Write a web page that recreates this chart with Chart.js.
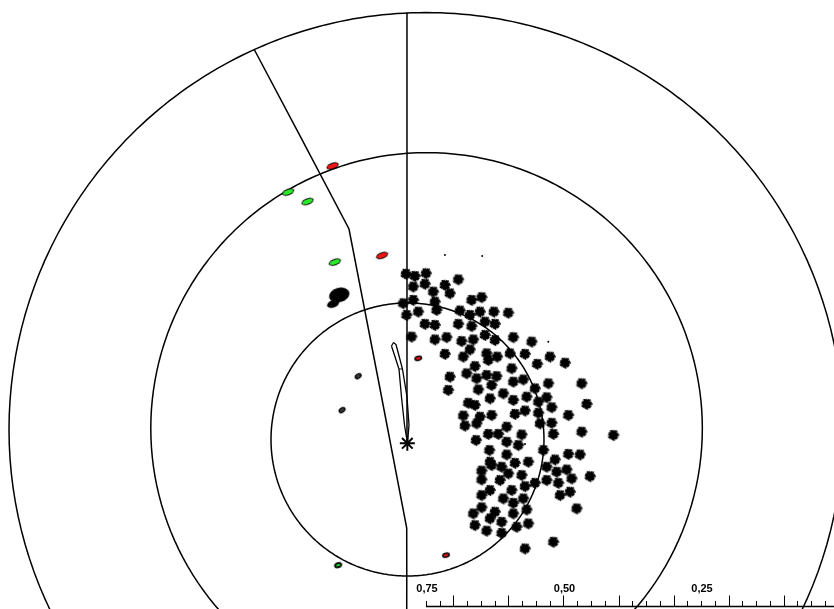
<!DOCTYPE html>
<html>
<head>
<meta charset="utf-8">
<script src="https://cdn.jsdelivr.net/npm/chart.js@4.4.1/dist/chart.umd.min.js"></script>
<style>
  html, body { margin: 0; padding: 0; background: #fff; overflow: hidden; }
  #wrap { width: 834px; height: 609px; position: relative; }
</style>
</head>
<body>
<div id="wrap"><canvas id="chart"></canvas></div>
<script>
// chart units: origin at the centre of the two big rings, outer ring = 75
const ringRadii = [75, 49.6, 24.55]
const ringCentersX = [0, 0.1, -3.33]
const ringCentersY = [0, 0.2, -1.8]

const meridianLine = [[-3.42, 75.02], [-3.42, -2.43]]
const boundaryLine = [[-30.94, 68.44], [-13.85, 36.06], [-3.47, -17.72], [-3.47, -34]]
const needleOutline = [
  [-6.21, 15.02], [-5.85, 15.65], [-5.4, 15.29], [-4.23, 10.88], [-3.42, 5.85],
  [-3.06, 0.81], [-3.33, -2.43], [-3.87, 0.81], [-4.41, 5.85], [-4.86, 10.88], [-6.21, 15.02]
]
const needleBar = [[-4.86, 10.88], [-4.23, 10.88]]
const centerMark = [[-3.36, -2.48]]

const clusterPts = [
  [-3.6, 28.0], [-2.0, 27.6], [0, 28.1], [-0.2, 26.2], [-2.3, 25.7], [1.3, 24.8], [3.4, 26.0],
  [5.8, 27.0], [4.3, 24.5], [1.6, 23.0], [-2.3, 23.3], [-4.1, 22.7], [-3.5, 20.6], [-1.4, 21.2],
  [1.9, 21.5], [6.1, 21.4], [8.2, 23.3], [10.0, 23.8], [9.7, 21.2], [12.2, 21.2], [14.8, 21.0],
  [7.9, 20.6], [10.6, 19.4], [12.4, 19.0], [5.8, 19.0], [8.2, 18.6], [-0.2, 19.0], [1.6, 18.8],
  [-2.6, 16.7], [1.6, 16.2], [3.7, 16.6], [6.4, 15.9], [8.5, 16.2], [10.6, 17.0], [12.4, 16.1],
  [15.7, 16.6], [19.0, 15.8], [7.9, 14.4], [3.4, 13.6], [6.7, 13.1], [10.9, 13.7], [12.8, 13.1],
  [15.1, 13.7], [17.8, 13.6], [22.3, 13.1], [25.0, 12.0], [8.8, 11.4], [11.2, 12.5], [15.4, 11.0],
  [20.0, 11.8], [4.3, 9.5], [7.3, 10.1], [10.9, 9.8], [12.7, 9.6], [9.1, 9.2], [15.7, 8.6],
  [17.5, 9.0], [11.8, 8.0], [22.0, 8.3], [28.0, 8.3], [4.0, 7.1], [9.4, 7.2], [13.9, 6.5],
  [19.6, 7.4], [11.5, 5.6], [15.7, 5.3], [18.1, 5.9], [21.7, 5.8], [7.6, 4.8], [8.8, 4.4],
  [20.2, 5.0], [17.8, 3.4], [22.6, 4.0], [28.9, 4.6], [6.7, 2.5], [9.7, 2.3], [11.8, 2.6],
  [16.0, 2.8], [20.2, 3.0], [25.6, 2.6], [7.0, 0.7], [9.1, 1.1], [22.6, 1.2], [14.5, 0.5],
  [20.5, 1.1], [11.2, -0.8], [13.0, -0.8], [17.2, -0.9], [22.9, -0.8], [28.0, -0.4], [33.7, -1.0],
  [9.0, -1.9], [14.5, -2.2], [16.6, -2.8], [21.1, -3.7], [11.4, -3.7], [14.5, -4.5], [25.6, -4.4],
  [27.7, -4.5], [11.5, -5.8], [16.0, -6.0], [18.4, -5.8], [23.2, -5.4], [10.0, -7.4], [11.8, -6.4],
  [13.6, -6.7], [21.7, -6.7], [23.5, -7.6], [25.3, -7.2], [29.5, -8.4], [17.2, -8.2], [14.8, -7.9],
  [10.0, -9.0], [13.3, -9.1], [19.6, -9.6], [21.7, -9.1], [23.8, -9.6], [26.2, -8.8], [11.5, -10.9],
  [10.0, -11.8], [15.4, -10.9], [17.8, -10.2], [25.9, -11.2], [24.1, -11.8], [13.9, -12.4],
  [17.5, -12.4], [15.7, -13.2], [8.5, -15.1], [10.0, -14.0], [12.4, -14.8], [15.7, -15.1],
  [11.5, -16.0], [13.6, -16.6], [18.1, -14.4], [18.4, -16.9], [27.1, -14.2], [8.8, -17.2],
  [10.9, -18.2], [13.6, -18.6], [16.3, -17.5], [17.8, -21.4], [22.9, -20.2]
]
const faintPts = [[3.4, 31.4], [10.1, 31.2], [22.0, 15.8], [17.8, -2.6]]

const redPts = [[-16.8, 47.4], [-7.9, 31.3]]
const greenPts = [[-24.8, 42.7], [-21.3, 41.0], [-16.4, 30.1]]
const redSmallPts = [[-1.4, 12.8], [3.6, -22.6]]
const greenSmallPts = [[-15.8, -24.4]]
const blackPts = [[-12.2, 9.6], [-15.1, 3.5]]
const blobPts = [[-15.6, 24.2]]
const blobTailPts = [[-16.7, 22.6]]

// bottom scale
const axisLevel = -31.83
const axisStart = 0.75
const axisStep = 0.025
const axisLabelValues = [0.75, 0.5, 0.25]
const axisLabels = ['0,75', '0,50', '0,25']

const toXY = arr => arr.map(p => ({ x: p[0], y: p[1] }))

function ringPoints(cx, cy, r) {
  const pts = []
  for (let a = 0; a <= 360; a += 2) {
    const t = a * Math.PI / 180
    pts.push({ x: cx + r * Math.cos(t), y: cy + r * Math.sin(t) })
  }
  return pts
}

function makeSplat() {
  const c = document.createElement("canvas")
  c.width = c.height = 14
  const g = c.getContext("2d")
  g.translate(7, 7)
  g.fillStyle = "rgba(0,0,0,0.3)"
  g.beginPath()
  g.arc(0, 0, 5.6, 0, Math.PI * 2)
  g.fill()
  g.fillStyle = "#000"
  g.beginPath()
  g.arc(0, 0, 4.2, 0, Math.PI * 2)
  g.fill()
  g.strokeStyle = "#000"
  g.lineWidth = 1.5
  for (let i = 0; i < 14; i++) {
    const a = i * Math.PI / 7 + (i % 2 ? 0.12 : 0)
    const len = i % 3 === 0 ? 5.8 : 5.1
    g.beginPath()
    g.moveTo(0, 0)
    g.lineTo(Math.cos(a) * len, Math.sin(a) * len)
    g.stroke()
  }
  return c
}

function makeEllipse(w, h, fill, lw) {
  const c = document.createElement("canvas")
  c.width = Math.ceil(w + lw * 2 + 2)
  c.height = Math.ceil(h + lw * 2 + 2)
  const g = c.getContext("2d")
  g.beginPath()
  g.ellipse(c.width / 2, c.height / 2, w / 2, h / 2, 0, 0, Math.PI * 2)
  g.fillStyle = fill
  g.fill()
  g.lineWidth = lw
  g.strokeStyle = "#000"
  g.stroke()
  return c
}

const RED = "rgb(240,20,20)"
const GREEN = "rgb(40,235,40)"

function markerSet(pts, img, rot) {
  return { data: toXY(pts), pointStyle: img, pointRadius: 5, rotation: rot || 0, showLine: false }
}

function lineSet(pts, width) {
  return {
    data: Array.isArray(pts[0]) ? toXY(pts) : pts,
    showLine: true, pointRadius: 0, borderColor: "#000", borderWidth: width || 1.5,
    fill: false, tension: 0.01
  }
}

const bottomAxis = {
  id: "bottomAxis",
  afterDatasetsDraw(chart) {
    const { ctx } = chart
    const ax = chart.scales.ax
    const base = Math.round(chart.scales.y.getPixelForValue(axisLevel)) + 0.5
    ctx.save()
    ctx.strokeStyle = "#000"
    ctx.lineWidth = 1.5
    ctx.beginPath()
    ctx.moveTo(ax.getPixelForValue(axisStart), base)
    ctx.lineTo(chart.width, base)
    ctx.stroke()
    ctx.lineWidth = 1
    for (let k = 0; axisStart - k * axisStep > 0.001; k++) {
      const v = axisStart - k * axisStep
      const px = Math.round(ax.getPixelForValue(v)) + 0.5
      const tenth = Math.abs(v * 10 - Math.round(v * 10)) < 1e-6
      ctx.beginPath()
      ctx.moveTo(px, base)
      ctx.lineTo(px, base - (tenth ? 11 : 5.5))
      ctx.stroke()
    }
    ctx.fillStyle = "#000"
    ctx.font = "bold 11px 'Liberation Sans', Arial, sans-serif"
    ctx.textAlign = "center"
    ctx.textBaseline = "alphabetic"
    axisLabelValues.forEach((v, i) => {
      ctx.fillText(axisLabels[i], ax.getPixelForValue(v) + 1, base - 14.5)
    })
    ctx.restore()
  }
}

const splat = makeSplat()

const datasets = [
  markerSet(redPts, makeEllipse(12, 5.5, RED, 1), -20),
  markerSet(greenPts, makeEllipse(12, 5.5, GREEN, 1), -20),
  markerSet(redSmallPts, makeEllipse(6.5, 4, RED, 1.5), -15),
  markerSet(greenSmallPts, makeEllipse(6.5, 4, GREEN, 1.8), -15),
  markerSet(blackPts, makeEllipse(6.5, 4.5, "#333", 1.2), -30),
  markerSet(blobPts, makeEllipse(20, 13.5, "#000", 1), -15),
  markerSet(blobTailPts, makeEllipse(12, 6.5, "#000", 1), -20),
  { data: toXY(centerMark), pointStyle: "star", pointRadius: 7.5, borderWidth: 2,
    borderColor: "#000", backgroundColor: "#000", showLine: false },
  markerSet(clusterPts, splat, 0),
  { data: toXY(faintPts), pointRadius: 1, backgroundColor: "#000", borderWidth: 0, showLine: false },
  lineSet(needleBar, 1),
  lineSet(needleOutline, 1.3),
  lineSet(meridianLine),
  lineSet(boundaryLine)
]
ringRadii.forEach((r, i) => datasets.push(lineSet(ringPoints(ringCentersX[i], ringCentersY[i], r))))

new Chart(document.getElementById("chart"), {
  type: "scatter",
  data: { datasets },
  options: {
    responsive: true,
    maintainAspectRatio: false,
    animation: false,
    events: [],
    layout: { padding: 0, autoPadding: false },
    plugins: { legend: { display: false }, tooltip: { enabled: false } },
    scales: {
      x: { type: "linear", display: false, bounds: "data", min: -76.62, max: 73.38 },
      y: { type: "linear", display: false, bounds: "data", min: -32.28, max: 77.25 },
      ax: { type: "linear", axis: "x", display: false, bounds: "data", reverse: true, min: 0.0082, max: 1.5245 }
    }
  },
  plugins: [bottomAxis]
})
</script>
</body>
</html>
